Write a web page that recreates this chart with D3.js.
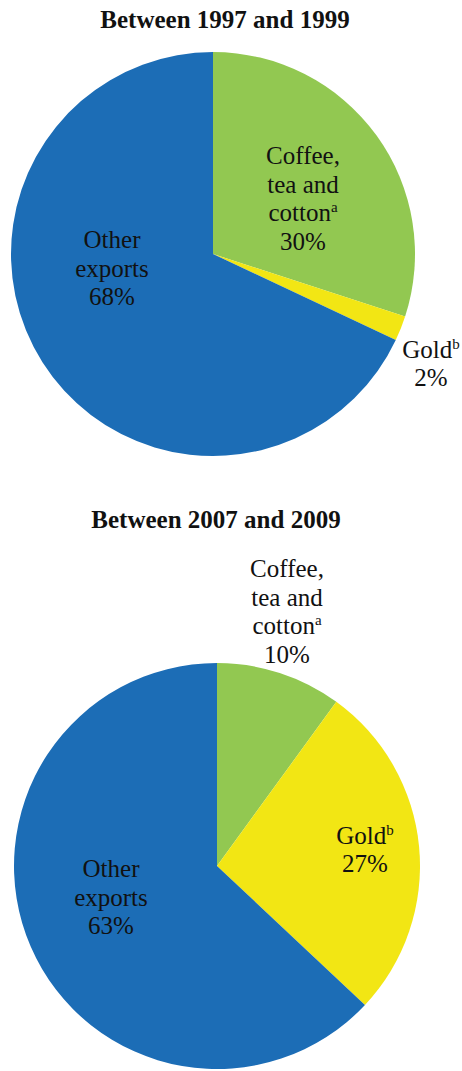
<!DOCTYPE html>
<html>
<head>
<meta charset="utf-8">
<script src="https://cdn.jsdelivr.net/npm/d3@7"></script>
<style>
  html, body { margin: 0; padding: 0; background: #fff; }
  svg { display: block; }
  svg text { font-family: "Liberation Serif", "Times New Roman", serif; }
</style>
</head>
<body>
<div id="chart"></div>
<script>
;(function(){
	var w = 462;
	var h = 1071;

	// data
	var titles = ["Between 1997 and 1999", "Between 2007 and 2009"];
	var categories = ["Coffee, tea and cotton", "Gold", "Other exports"];
	var labelLines = [["Coffee,", "tea and", "cotton"], ["Gold"], ["Other", "exports"]];
	var labelSup = ["a", "b", ""];
	var shares1999 = [30, 2, 68];
	var shares2009 = [10, 27, 63];

	var colors = ["#92c851", "#f2e614", "#1c6db6"];
	var fontSize = 25;
	var lineH = 28.5;

	// layout for each pie: centre, radius, title baseline, label block offsets from centre
	var charts = [
		{ title: titles[0], values: shares1999, cx: 213, cy: 254, r: 202, ty: 28, tx: 225,
		  labelOff: [[90, -56], [218, 109], [-101, 14]] },
		{ title: titles[1], values: shares2009, cx: 217, cy: 866, r: 203, ty: 528, tx: 216,
		  labelOff: [[70, -255], [148, -17], [-106, 31]] }
	];

	var svg = d3.select("#chart").append("svg")
		.attr("width", w)
		.attr("height", h);

	var pie = d3.pie()
		.sort(null)
		.value(function(d){ return d.value; });

	charts.forEach(function(c){
		var rows = categories.map(function(name, i){
			return { name: name, value: c.values[i], i: i };
		});

		var arc = d3.arc()
			.innerRadius(0)
			.outerRadius(c.r);

		var g = svg.append("g")
			.attr("transform", "translate(" + c.cx + "," + c.cy + ")");

		g.selectAll("path.slice")
			.data(pie(rows))
			.enter().append("path")
				.attr("class", "slice")
				.attr("d", arc)
				.attr("fill", function(d){ return colors[d.data.i]; });

		// title
		svg.append("text")
			.attr("x", c.tx)
			.attr("y", c.ty)
			.attr("text-anchor", "middle")
			.attr("font-weight", "bold")
			.attr("font-size", 25)
			.attr("fill", "#111")
			.text(c.title);

		// labels
		rows.forEach(function(d){
			var lines = labelLines[d.i].concat([d.value + "%"]);
			var off = c.labelOff[d.i];
			var y0 = off[1] - (lines.length - 1) * lineH / 2;

			var t = g.append("text")
				.attr("text-anchor", "middle")
				.attr("font-size", fontSize)
				.attr("fill", "#111");

			lines.forEach(function(line, k){
				t.append("tspan")
					.attr("x", off[0])
					.attr("y", y0 + k * lineH)
					.attr("dy", "0.35em")
					.text(line);
				// superscript after the last name line
				if(k == labelLines[d.i].length - 1 && labelSup[d.i]){
					t.append("tspan")
						.attr("font-size", 15)
						.attr("dy", "-0.6em")
						.text(labelSup[d.i]);
				}
			});
		});
	});
})();
</script>
</body>
</html>
